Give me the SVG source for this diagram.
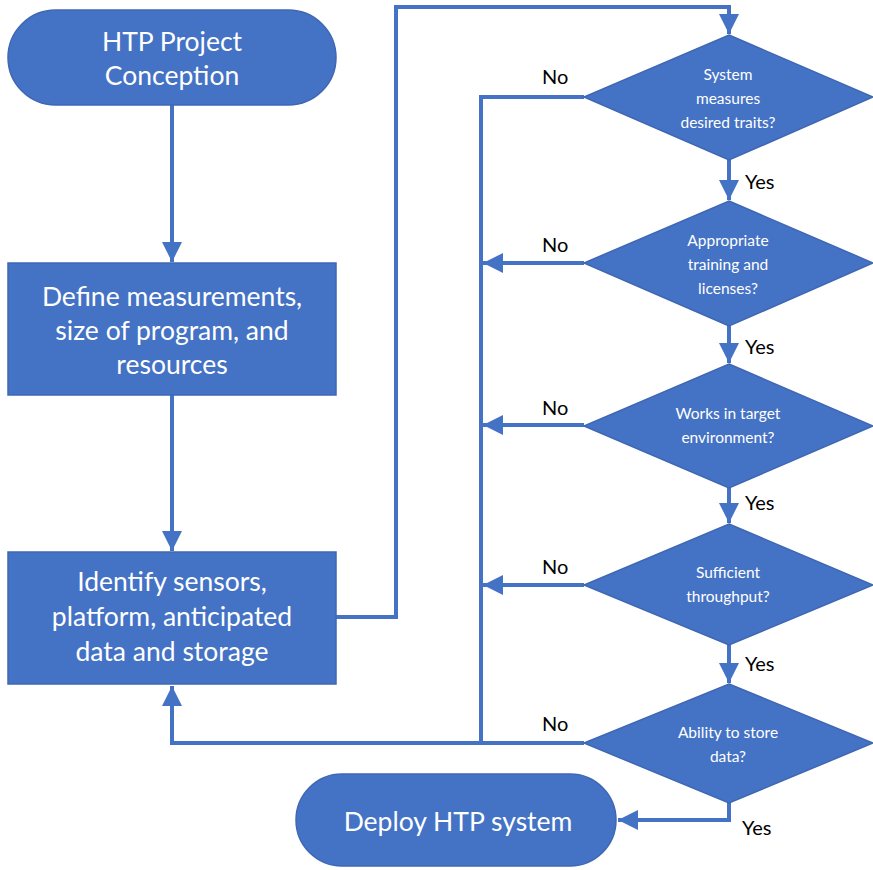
<svg xmlns="http://www.w3.org/2000/svg" width="873" height="870" viewBox="0 0 873 870">
  <defs>
    <marker id="arrow" viewBox="0 0 10 10" refX="10" refY="5" markerWidth="5" markerHeight="5" markerUnits="strokeWidth" orient="auto">
      <path d="M0,0 L10,5 L0,10 Z" fill="#4472C4"/>
    </marker>
  </defs>
  <style>
    .shape { fill: #4472C4; stroke: #3F67B3; stroke-width: 1.5; }
    .big { font-family: Lato, "Open Sans", "Liberation Sans", sans-serif; font-size: 26.5px; fill: #FFFFFF; text-anchor: middle; }
    .small { font-family: Lato, "Open Sans", "Liberation Sans", sans-serif; font-size: 15.5px; fill: #FFFFFF; text-anchor: middle; }
    .label { font-family: Lato, "Open Sans", "Liberation Sans", sans-serif; font-size: 20px; fill: #000000; }
    .conn { fill: none; stroke: #4472C4; stroke-width: 4; }
  </style>
  <rect width="873" height="870" fill="#FFFFFF"/>

  <!-- connectors -->
  <g id="connectors">
    <path class="conn" d="M172,105 L172,262" marker-end="url(#arrow)"/>
    <path class="conn" d="M172,395 L172,551" marker-end="url(#arrow)"/>
    <path class="conn" d="M336,617 L396,617 L396,7 L729,7 L729,34" marker-end="url(#arrow)"/>
    <path class="conn" d="M729,160 L729,200" marker-end="url(#arrow)"/>
    <path class="conn" d="M729,326 L729,363" marker-end="url(#arrow)"/>
    <path class="conn" d="M729,488 L729,523" marker-end="url(#arrow)"/>
    <path class="conn" d="M729,645 L729,683" marker-end="url(#arrow)"/>
    <path class="conn" d="M729,803 L729,820 L618,820" marker-end="url(#arrow)"/>
    <path class="conn" d="M584,97 L481,97 L481,743"/>
    <path class="conn" d="M584,263 L483,263" marker-end="url(#arrow)"/>
    <path class="conn" d="M584,425 L483,425" marker-end="url(#arrow)"/>
    <path class="conn" d="M584,585 L483,585" marker-end="url(#arrow)"/>
    <path class="conn" d="M584,743 L172,743 L172,686" marker-end="url(#arrow)"/>
  </g>

  <g id="start">
    <rect class="shape" x="8" y="10" width="328" height="95" rx="47.5" ry="47.5"/>
    <text class="big" x="172" y="51">HTP Project</text>
    <text class="big" x="172" y="85">Conception</text>
  </g>

  <g id="define">
    <rect class="shape" x="8" y="263" width="328" height="132"/>
    <text class="big" x="172" y="306">Define measurements,</text>
    <text class="big" x="172" y="340">size of program, and</text>
    <text class="big" x="172" y="374">resources</text>
  </g>

  <g id="identify">
    <rect class="shape" x="8" y="552" width="328" height="132"/>
    <text class="big" x="172" y="591">Identify sensors,</text>
    <text class="big" x="172" y="626">platform, anticipated</text>
    <text class="big" x="172" y="661">data and storage</text>
  </g>

  <g id="traits">
    <polygon class="shape" points="729,35 873,97 729,160 584,97"/>
    <text class="small" x="728" y="80">System</text>
    <text class="small" x="728" y="104">measures</text>
    <text class="small" x="728" y="128">desired traits?</text>
  </g>

  <g id="training">
    <polygon class="shape" points="729,201 873,263 729,326 584,263"/>
    <text class="small" x="728" y="246">Appropriate</text>
    <text class="small" x="728" y="270">training and</text>
    <text class="small" x="728" y="294">licenses?</text>
  </g>

  <g id="environment">
    <polygon class="shape" points="729,364 873,426 729,488 584,426"/>
    <text class="small" x="728" y="419">Works in target</text>
    <text class="small" x="728" y="443">environment?</text>
  </g>

  <g id="throughput">
    <polygon class="shape" points="729,524 873,585 729,645 584,585"/>
    <text class="small" x="728" y="578">Sufficient</text>
    <text class="small" x="728" y="602">throughput?</text>
  </g>

  <g id="storage">
    <polygon class="shape" points="729,684 873,743 729,803 584,743"/>
    <text class="small" x="728" y="738">Ability to store</text>
    <text class="small" x="728" y="762">data?</text>
  </g>

  <g id="deploy">
    <rect class="shape" x="296" y="774" width="320" height="92" rx="46" ry="46"/>
    <text class="big" x="458" y="831">Deploy HTP system</text>
  </g>

  <g id="labels">
    <text class="label" x="542" y="84">No</text>
    <text class="label" x="542" y="252">No</text>
    <text class="label" x="542" y="415">No</text>
    <text class="label" x="542" y="574">No</text>
    <text class="label" x="542" y="731">No</text>
    <text class="label" x="745" y="189">Yes</text>
    <text class="label" x="745" y="354">Yes</text>
    <text class="label" x="745" y="510">Yes</text>
    <text class="label" x="745" y="671">Yes</text>
    <text class="label" x="742" y="835">Yes</text>
  </g>
</svg>
